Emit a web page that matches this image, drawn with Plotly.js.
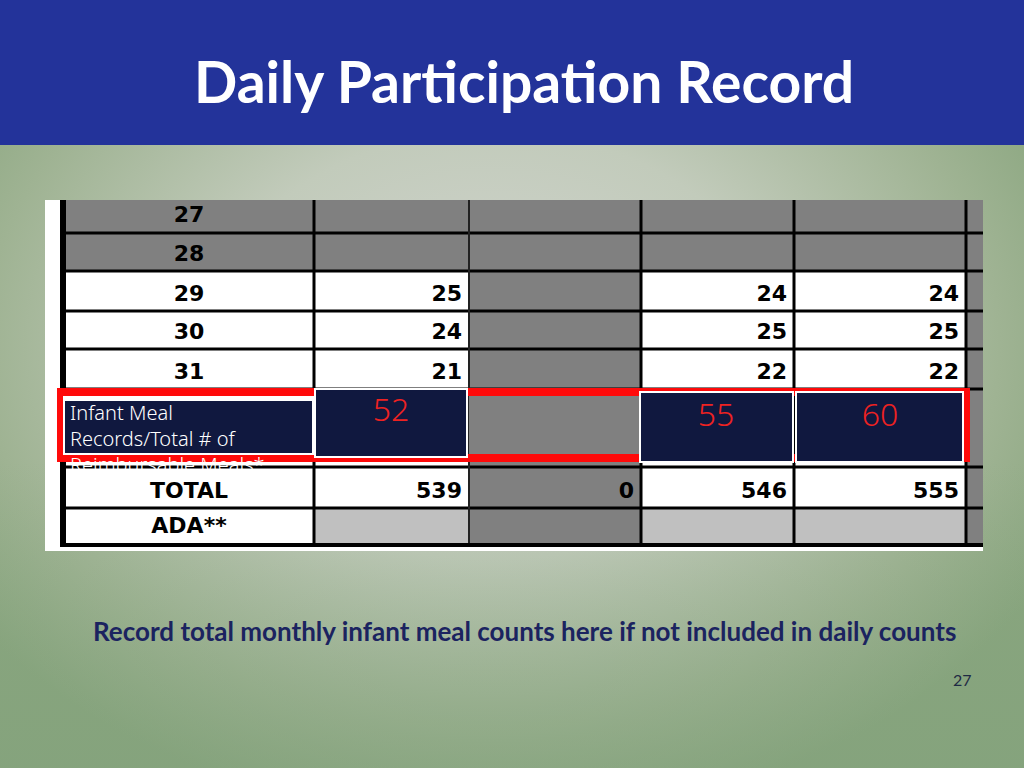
<!DOCTYPE html>
<html>
<head>
<meta charset="utf-8">
<script src="https://cdn.plot.ly/plotly-3.0.1.min.js"></script>
<style>html,body{margin:0;padding:0;overflow:hidden;background:#fff}#chart{width:1024px;height:768px}</style>
</head>
<body>
<div id="chart"></div>
<script>
// ---------- DATA ----------
const slideTitle = 'Daily Participation Record';
const caption = 'Record total monthly infant meal counts here if not included in daily counts';
const pageNumber = '27';
const rowLabels = ['27', '28', '29', '30', '31', 'TOTAL', 'ADA**'];
const closedDays = ['27', '28'];
const colB = [null, null, 25, 24, 21, 539, null];
const colC = [null, null, null, null, null, 0, null];
const colD = [null, null, 24, 25, 22, 546, null];
const colE = [null, null, 24, 25, 22, 555, null];
const infantLabel = 'Infant Meal<br>Records/Total # of<br>Reimbursable Meals*';
const infantCounts = [52, null, 55, 60]; // columns B, C, D, E

// ---------- LAYOUT GEOMETRY (pixels) ----------
const colEdges = [63, 314, 469, 641, 794, 966, 983];
const rowEdgesTop = [200, 233, 271, 311, 349];   // rows 27..31 (top edges), next edge 389
const rowBandsBottom = [[467, 508], [508, 546]]; // TOTAL, ADA
const textRowY = [216, 255, 295, 333, 373, 492, 527];
const labelCenterX = 189;
const rightPad = 7;

const GRAY = '#808080', LIGHT = '#c0c0c0', WHITE = '#ffffff', NAVY = '#10183f';
const shapes = [];
function rect(x0, y0, x1, y1, fill, line) {
  shapes.push({type: 'rect', xref: 'x', yref: 'y', x0, y0, x1, y1, fillcolor: fill,
    line: line || {width: 0}, layer: 'below'});
}
function hline(y, x0, x1, w, c) {
  shapes.push({type: 'line', xref: 'x', yref: 'y', x0, x1, y0: y, y1: y, line: {color: c || '#000', width: w || 3}, layer: 'below'});
}
function vline(x, y0, y1, w, c) {
  shapes.push({type: 'line', xref: 'x', yref: 'y', x0: x, x1: x, y0, y1, line: {color: c || '#000', width: w || 3}, layer: 'below'});
}

// header band
rect(0, 0, 1024, 145, '#23339a');
// table image white base
rect(45, 200, 983, 551, WHITE);

// day rows
const rowTops = rowEdgesTop.concat([389]);
for (let r = 0; r < rowEdgesTop.length; r++) {
  const y0 = rowTops[r], y1 = rowTops[r + 1];
  const closed = closedDays.includes(rowLabels[r]);
  for (let c = 0; c < 6; c++) {
    let fill = closed ? GRAY : WHITE;
    if (c === 2 || c === 5) fill = GRAY;
    rect(colEdges[c], y0, colEdges[c + 1], y1, fill);
  }
}
// infant row area (389-467)
rect(colEdges[0], 389, colEdges[6], 467, WHITE);
rect(colEdges[2], 389, colEdges[3], 467, GRAY);
rect(colEdges[5], 389, colEdges[6], 467, GRAY);
// total + ADA rows
const bottomFills = [
  [WHITE, WHITE, GRAY, WHITE, WHITE, GRAY],
  [WHITE, LIGHT, GRAY, LIGHT, LIGHT, GRAY]
];
rowBandsBottom.forEach((b, i) => {
  for (let c = 0; c < 6; c++) rect(colEdges[c], b[0], colEdges[c + 1], b[1], bottomFills[i][c]);
});

// grid lines
[233, 271, 311, 349, 389, 467, 508].forEach(y => hline(y, 63, 983, 3));
[314, 641, 794, 966].forEach(x => vline(x, 200, 546, 3));
vline(469, 200, 546, 2, '#222');
vline(63, 200, 547, 6);
hline(545, 60, 983, 4);

// red highlight frame
const RED = '#ff0a0a';
rect(57, 388, 968, 396, RED);
rect(57, 454, 968, 462, RED);
rect(57, 388, 63, 462, RED);
rect(962, 388, 970, 462, RED);
rect(63, 396, 314, 454, WHITE);
rect(469, 396, 641, 454, GRAY);
// navy boxes
const box = (x0, y0, x1, y1) => rect(x0, y0, x1, y1, NAVY, {color: '#ffffff', width: 2});
box(64, 400, 313, 454);
box(315, 389, 467, 457);
box(640, 392, 793, 462);
box(796, 392, 963, 462);

// ---------- TRACES ----------
const tableFont = {family: 'DejaVu Sans', size: 22, color: '#000', weight: 'bold'};
const traces = [];
traces.push({
  type: 'scatter', mode: 'text', x: rowLabels.map(() => labelCenterX), y: textRowY,
  text: rowLabels, textposition: 'middle center', textfont: tableFont,
  cliponaxis: false, hoverinfo: 'skip', showlegend: false
});
[colB, colC, colD, colE].forEach((vals, k) => {
  const colIdx = k + 1;
  const xs = [], ys = [], ts = [];
  vals.forEach((v, i) => { if (v !== null) { xs.push(colEdges[colIdx + 1] - rightPad); ys.push(textRowY[i]); ts.push(String(v)); } });
  traces.push({
    type: 'scatter', mode: 'text', x: xs, y: ys, text: ts,
    textposition: 'middle left', textfont: tableFont,
    cliponaxis: false, hoverinfo: 'skip', showlegend: false
  });
});
// infant label
traces.push({
  type: 'scatter', mode: 'text', x: [70], y: [441], text: [infantLabel],
  textposition: 'middle right', textfont: {family: 'Noto Sans', size: 20, color: '#ffffff', weight: 300},
  cliponaxis: false, hoverinfo: 'skip', showlegend: false
});
// infant counts
const infantX = [391, null, 716, 880];
const infantY = [413, null, 418, 418];
const ix = [], iy = [], it = [];
infantCounts.forEach((v, i) => { if (v !== null) { ix.push(infantX[i]); iy.push(infantY[i]); it.push(String(v)); } });
traces.push({
  type: 'scatter', mode: 'text', x: ix, y: iy, text: it,
  textposition: 'middle center', textfont: {family: 'Noto Sans', size: 32, color: '#ee2222', weight: 300},
  cliponaxis: false, hoverinfo: 'skip', showlegend: false
});

// background gradient (svg data uri)
const bgSvg = '<svg xmlns="http://www.w3.org/2000/svg" width="1024" height="768">' +
  '<defs><radialGradient id="g" cx="0.48" cy="0.45" r="0.62">' +
  '<stop offset="0" stop-color="#d3d5d1"/><stop offset="0.45" stop-color="#c2cbbb"/>' +
  '<stop offset="0.8" stop-color="#9fb393"/><stop offset="1" stop-color="#8aa67f"/></radialGradient>' +
  '<linearGradient id="h" x1="0" y1="0" x2="0" y2="1"><stop offset="0.6" stop-color="#7fa07a" stop-opacity="0"/>' +
  '<stop offset="1" stop-color="#7fa07a" stop-opacity="0.45"/></linearGradient></defs>' +
  '<rect width="1024" height="768" fill="url(#g)"/><rect width="1024" height="768" fill="url(#h)"/></svg>';
const bgUri = 'data:image/svg+xml;base64,' + btoa(bgSvg);

const layout = {
  width: 1024, height: 768,
  margin: {l: 0, r: 0, t: 0, b: 0},
  paper_bgcolor: '#b9c4b2', plot_bgcolor: 'rgba(0,0,0,0)',
  xaxis: {range: [0, 1024], visible: false, fixedrange: true},
  yaxis: {range: [768, 0], visible: false, fixedrange: true},
  showlegend: false,
  shapes: shapes,
  images: [{source: bgUri, xref: 'paper', yref: 'paper', x: 0, y: 1, sizex: 1, sizey: 1,
    xanchor: 'left', yanchor: 'top', sizing: 'stretch', layer: 'below'}],
  annotations: [
    {text: '<b>' + slideTitle + '</b>', xref: 'x', yref: 'y', x: 524, y: 81, showarrow: false,
      font: {family: 'Lato', size: 57, color: '#ffffff'}},
    {text: '<b>' + caption + '</b>', xref: 'x', yref: 'y', x: 524, y: 631, showarrow: false,
      font: {family: 'Lato', size: 26, color: '#1b2360'}},
    {text: pageNumber, xref: 'x', yref: 'y', x: 962, y: 679, showarrow: false,
      font: {family: 'Lato', size: 16, color: '#1f2a44'}}
  ]
};

Plotly.newPlot('chart', traces, layout, {displayModeBar: false, staticPlot: true});
</script>
</body>
</html>
